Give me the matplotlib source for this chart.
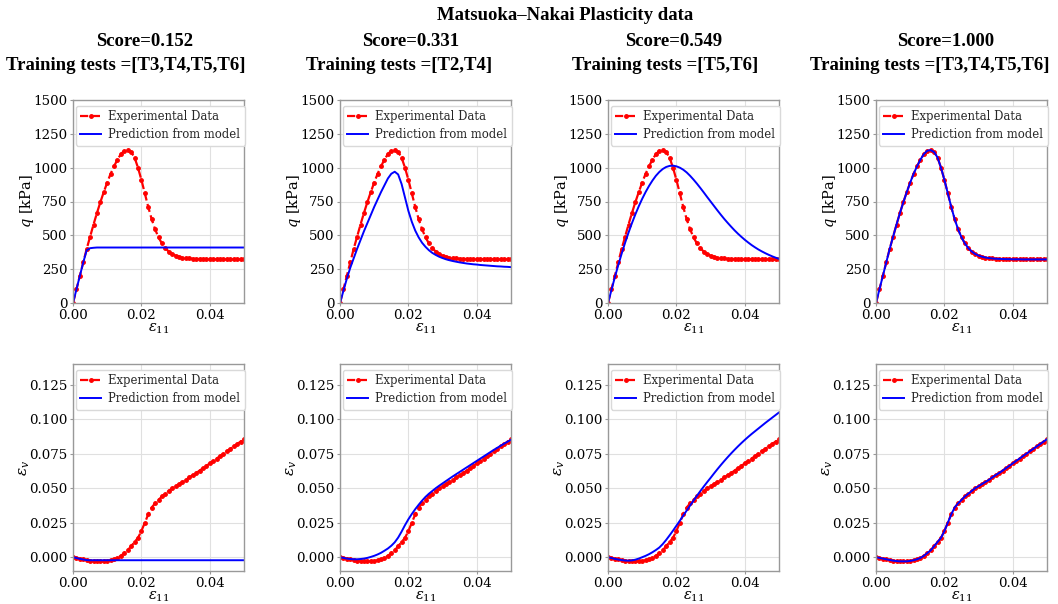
import numpy as np
import matplotlib as mpl
import matplotlib.pyplot as plt

mpl.rcParams.update({
    'mathtext.fontset': 'dejavuserif',
    'font.family': 'DejaVu Serif',
    'axes.edgecolor': '0.6',
    'axes.linewidth': 1.0,
    'grid.color': '0.88',
    'grid.linewidth': 0.8,
    'xtick.color': '0.6',
    'ytick.color': '0.6',
    'xtick.labelcolor': 'black',
    'ytick.labelcolor': 'black',
    'xtick.labelsize': 9.6,
    'ytick.labelsize': 9.6,
    'xtick.major.size': 2.5,
    'ytick.major.size': 2.5,
    'xtick.major.pad': 1.5,
    'ytick.major.pad': 1.5,
})

###################################
# Data
###################################

eps11 = [0.000, 0.001, 0.002, 0.003, 0.004, 0.005, 0.006, 0.007, 0.008, 0.009,
         0.010, 0.011, 0.012, 0.013, 0.014, 0.015, 0.016, 0.017, 0.018, 0.019,
         0.020, 0.021, 0.022, 0.023, 0.024, 0.025, 0.026, 0.027, 0.028, 0.029,
         0.030, 0.031, 0.032, 0.033, 0.034, 0.035, 0.036, 0.037, 0.038, 0.039,
         0.040, 0.041, 0.042, 0.043, 0.044, 0.045, 0.046, 0.047, 0.048, 0.049,
         0.050]

# experimental data
q_exp = [0, 100, 200, 300, 400, 490, 580, 665, 745, 820,
         890, 955, 1010, 1060, 1100, 1125, 1130, 1115, 1075, 1000,
         910, 810, 710, 620, 545, 485, 440, 405, 380, 362,
         350, 342, 336, 332, 329, 327, 326, 325, 324, 324,
         323, 323, 323, 322, 322, 322, 322, 322, 322, 322,
         322]
ev_exp = [0.0, -0.0005, -0.001, -0.0015, -0.002, -0.0025, -0.0028, -0.003, -0.003, -0.003,
          -0.0027, -0.0022, -0.0015, -0.0005, 0.001, 0.003, 0.005, 0.008, 0.011, 0.014,
          0.019, 0.025, 0.031, 0.036, 0.039, 0.0415, 0.044, 0.046, 0.048, 0.050,
          0.0515, 0.053, 0.0545, 0.056, 0.0578, 0.0595, 0.061, 0.0627, 0.0645, 0.0662,
          0.068, 0.0698, 0.0715, 0.0733, 0.075, 0.0768, 0.0785, 0.0803, 0.082, 0.0838,
          0.0855]

# model predictions
q_pred1 = [0, 100, 200, 300, 390, 405, 408, 410, 410, 410,
           410, 410, 410, 410, 410, 410, 410, 410, 410, 410,
           410, 410, 410, 410, 410, 410, 410, 410, 410, 410,
           410, 410, 410, 410, 410, 410, 410, 410, 410, 410,
           410, 410, 410, 410, 410, 410, 410, 410, 410, 410,
           410]
ev_pred1 = [0.0, -0.0006, -0.0012, -0.0017, -0.0021, -0.0022, -0.0022, -0.0022, -0.0022, -0.0022,
            -0.0022, -0.0022, -0.0022, -0.0022, -0.0022, -0.0022, -0.0022, -0.0022, -0.0022, -0.0022,
            -0.0022, -0.0022, -0.0022, -0.0022, -0.0022, -0.0022, -0.0022, -0.0022, -0.0022, -0.0022,
            -0.0022, -0.0022, -0.0022, -0.0022, -0.0022, -0.0022, -0.0022, -0.0022, -0.0022, -0.0022,
            -0.0022, -0.0022, -0.0022, -0.0022, -0.0022, -0.0022, -0.0022, -0.0022, -0.0022, -0.0022,
            -0.0022]

q_pred2 = [0, 90, 180, 260, 330, 400, 465, 530, 590, 650,
           710, 765, 820, 870, 920, 955, 970, 950, 880, 780,
           680, 600, 535, 485, 445, 415, 390, 370, 355, 342,
           332, 323, 316, 310, 305, 300, 296, 292, 289, 286,
           284, 281, 279, 277, 275, 273, 271, 270, 268, 267,
           265]
ev_pred2 = [0.0, -0.0005, -0.001, -0.0013, -0.0015, -0.0015, -0.0013, -0.001, -0.0005, 0.0002,
            0.001, 0.002, 0.0032, 0.0047, 0.0063, 0.0083, 0.0108, 0.0142, 0.0185, 0.0232,
            0.0275, 0.0313, 0.0348, 0.038, 0.041, 0.0437, 0.046, 0.048, 0.050, 0.0518,
            0.0535, 0.0552, 0.0569, 0.0586, 0.0602, 0.0618, 0.0634, 0.065, 0.0666, 0.0682,
            0.0698, 0.0714, 0.073, 0.0746, 0.0762, 0.0778, 0.0793, 0.0808, 0.0823, 0.0837,
            0.0851]

q_pred3 = [0, 95, 190, 280, 365, 445, 520, 590, 655, 715,
           770, 820, 865, 905, 940, 968, 990, 1005, 1013, 1015,
           1010, 1000, 985, 965, 940, 912, 882, 850, 817, 783,
           750, 717, 684, 652, 621, 592, 564, 537, 512, 489,
           467, 447, 428, 411, 395, 381, 368, 356, 345, 335,
           326]
ev_pred3 = [0.0, -0.0006, -0.0012, -0.0017, -0.0021, -0.0024, -0.0025, -0.0023, -0.0018, -0.001,
            0.0, 0.001, 0.0022, 0.0036, 0.0052, 0.007, 0.0095, 0.0125, 0.0158, 0.0192,
            0.0228, 0.0264, 0.0301, 0.0338, 0.0374, 0.041, 0.0445, 0.0479, 0.0512, 0.0544,
            0.0575, 0.0607, 0.0638, 0.0668, 0.0697, 0.0725, 0.0752, 0.0778, 0.0803, 0.0827,
            0.085, 0.0872, 0.0893, 0.0913, 0.0933, 0.0953, 0.0973, 0.0992, 0.1011, 0.103,
            0.1049]

# last model reproduces the data
q_pred4 = q_exp
ev_pred4 = ev_exp

q_preds = [q_pred1, q_pred2, q_pred3, q_pred4]
ev_preds = [ev_pred1, ev_pred2, ev_pred3, ev_pred4]
scores = ['0.152', '0.331', '0.549', '1.000']
training = ['[T3,T4,T5,T6]', '[T2,T4]', '[T5,T6]', '[T3,T4,T5,T6]']

###################################
# Plot
###################################

W, H = 1058, 604
fig = plt.figure(figsize=(W / 100, H / 100), dpi=100)

lefts = [73, 340, 608, 876]
width = 171
title_x = [145, 411, 674, 946]
title_x2 = [126, 399, 665, 930]

title_font = dict(family='Liberation Serif', weight='bold', fontsize=13.5)
fig.text(565 / W, 1 - 15 / H, 'Matsuoka\u2013Nakai Plasticity data',
         ha='center', va='center', **title_font)

for i in range(4):
    ax_q = fig.add_axes([lefts[i] / W, 1 - 303 / H, width / W, 203 / H])
    ax_e = fig.add_axes([lefts[i] / W, 1 - 571 / H, width / W, 207 / H])

    ax_q.plot(eps11, q_exp, 'r.--', ms=5, lw=1.6, label='Experimental Data')
    ax_q.plot(eps11, q_preds[i], 'b-', lw=1.4, label='Prediction from model')
    ax_q.set_xlim([0, 0.05])
    ax_q.set_ylim([0, 1500])
    ax_q.set_yticks([0, 250, 500, 750, 1000, 1250, 1500])
    ax_q.set_ylabel(r'$q$ [kPa]', fontsize=10.5, labelpad=-2)

    ax_e.plot(eps11, ev_exp, 'r.--', ms=5, lw=1.6, label='Experimental Data')
    ax_e.plot(eps11, ev_preds[i], 'b-', lw=1.4, label='Prediction from model')
    ax_e.set_xlim([0, 0.05])
    ax_e.set_ylim([-0.01, 0.14])
    ax_e.set_yticks([0, 0.025, 0.05, 0.075, 0.1, 0.125])
    ax_e.set_yticklabels(['0.000', '0.025', '0.050', '0.075', '0.100', '0.125'])
    ax_e.set_ylabel(r'$\varepsilon_v$', fontsize=11, labelpad=-2)

    for ax in (ax_q, ax_e):
        ax.set_xticks([0, 0.02, 0.04])
        ax.set_xticklabels(['0.00', '0.02', '0.04'])
        ax.set_xlabel(r'$\varepsilon_{11}$', fontsize=10.5, labelpad=0)
        ax.grid(True)
        ax.set_axisbelow(True)
        ax.legend(loc='upper right', bbox_to_anchor=(1.005, 0.972), borderaxespad=0,
                  fontsize=8.4, handlelength=1.8, handletextpad=0.6,
                  borderpad=0.4, labelspacing=0.4,
                  edgecolor='0.85', framealpha=1.0, labelcolor='0.15')

    fig.text(title_x[i] / W, 1 - 42 / H, 'Score=' + scores[i],
             ha='center', va='center', **title_font)
    fig.text(title_x2[i] / W, 1 - 66 / H, 'Training tests =' + training[i],
             ha='center', va='center', **title_font)

plt.savefig('out.png', dpi=100)
plt.close()
